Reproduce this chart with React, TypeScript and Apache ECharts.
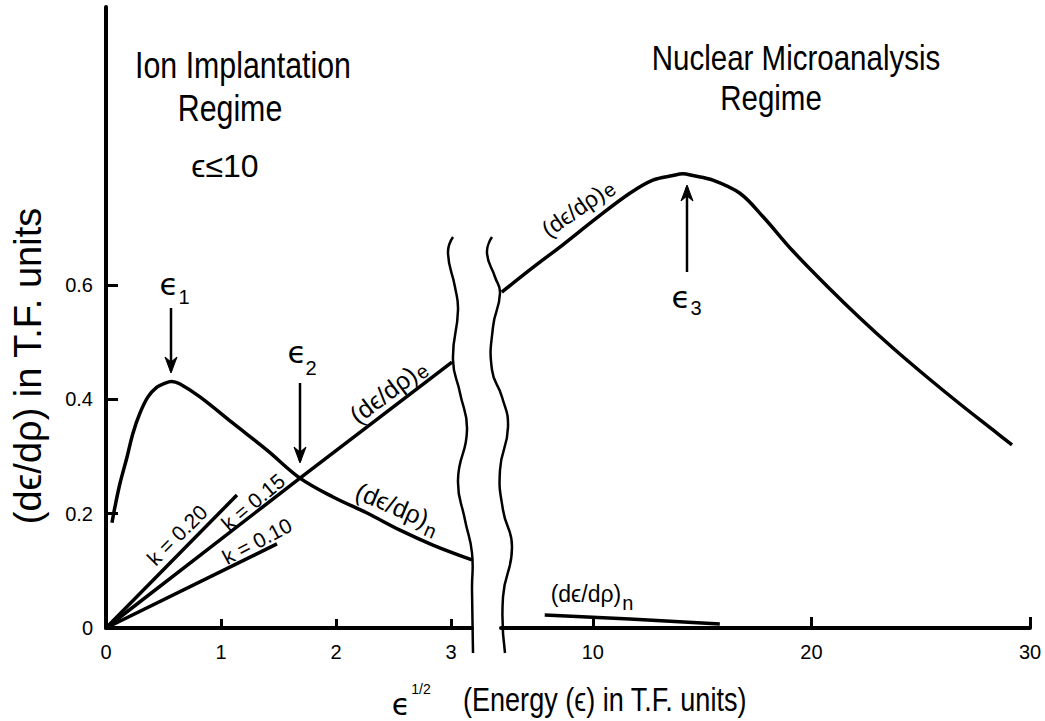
import React, { useEffect, useRef } from "react";
import * as echarts from "echarts";

// ---------- data ----------
const sqrtEnergyTicks = [0, 1, 2, 3];
const energyTicks = [10, 20, 30];
const stoppingTicks = [0, 0.2, 0.4, 0.6];

// low-energy region, x = eps^(1/2)
const nuclearLowX = [0.052, 0.078, 0.122, 0.183, 0.235, 0.296, 0.365, 0.443, 0.513, 0.57, 0.64, 0.817, 1.104, 1.4, 1.687, 1.974, 2.27, 2.557, 2.843, 3.183];
const nuclearLowY = [0.184, 0.212, 0.253, 0.299, 0.341, 0.376, 0.404, 0.421, 0.428, 0.431, 0.427, 0.404, 0.358, 0.311, 0.262, 0.229, 0.201, 0.171, 0.145, 0.119];

const k020X = [0, 1.139];
const k020Y = [0, 0.2325];
const k015X = [0, 1.687, 3.009];
const k015Y = [0, 0.262, 0.465];
const k010X = [0, 1.487];
const k010Y = [0, 0.147];

// high-energy region, x = eps
const electronicHighX = [5.835, 7.117, 8.627, 10.183, 11.693, 12.746, 13.661, 14.12, 14.577, 15.492, 16.728, 17.8, 19.153, 20.709, 22.22, 23.73, 25.286, 26.796, 28.307, 29.176];
const electronicHighY = [0.587, 0.626, 0.67, 0.717, 0.76, 0.783, 0.791, 0.794, 0.791, 0.783, 0.76, 0.7185, 0.659, 0.598, 0.542, 0.4895, 0.4388, 0.3916, 0.3462, 0.32];
const nuclearHighX = [7.8, 11.69, 15.81];
const nuclearHighY = [0.0227, 0.0157, 0.007];

const zip = (xs: number[], ys: number[]) => xs.map((x, i) => [x, ys[i]]);

const SANS = "'Liberation Sans',Arial,sans-serif";
const GREEK = "'DejaVu Sans','Liberation Sans',sans-serif";
const NARROW_SCALE = 0.82;

function measure(text: string, fs: number, family: string): number {
  const c = document.createElement("canvas").getContext("2d");
  if (!c) return text.length * fs * 0.5;
  c.font = `${fs}px ${family}`;
  return c.measureText(text).width;
}

function txt(text: string, x: number, y: number, fs: number, family = SANS, extra: any = {}) {
  return {
    type: "text",
    x,
    y,
    z: 100,
    ...extra,
    style: { text, fill: "#000", fontSize: fs, fontFamily: family, align: "center", verticalAlign: "middle" },
  };
}

function subLabel(main: string, sub: string, cx: number, cy: number, rotDeg: number, fs: number, subFs: number, subDy: number) {
  const mw = measure(main, fs, SANS);
  const sw = measure(sub, subFs, SANS);
  const total = mw + sw + 1;
  return {
    type: "group",
    x: cx,
    y: cy,
    z: 100,
    rotation: (rotDeg * Math.PI) / 180,
    children: [
      { type: "text", x: -total / 2, y: 0, style: { text: main, fill: "#000", fontSize: fs, fontFamily: SANS, align: "left", verticalAlign: "middle" } },
      { type: "text", x: -total / 2 + mw + 1, y: subDy, style: { text: sub, fill: "#000", fontSize: subFs, fontFamily: SANS, align: "left", verticalAlign: "middle" } },
    ],
  };
}

function arrow(x: number, yTail: number, yTip: number) {
  const dir = yTip > yTail ? 1 : -1;
  return [
    { type: "line", z: 100, shape: { x1: x, y1: yTail, x2: x, y2: yTip - dir * 2 }, style: { stroke: "#000", lineWidth: 2.5 } },
    {
      type: "polygon",
      z: 100,
      shape: { points: [[x - 6, yTip - dir * 16], [x, yTip], [x + 6, yTip - dir * 16], [x, yTip - dir * 11]] },
      style: { fill: "#000", stroke: "#000", lineWidth: 1 },
    },
  ];
}

const wavy1 = [[453, 237], [448, 253], [455, 287], [458, 310], [453, 360], [460, 393], [467, 430], [458, 480], [465, 520], [472, 553], [472, 590], [473, 653]];
const wavy2 = [[492, 237], [487, 253], [495, 277], [500, 293], [493, 327], [492, 370], [502, 397], [508, 427], [500, 470], [503, 510], [512, 547], [503, 597], [505, 653]];

export default function App() {
  const ref = useRef<HTMLDivElement>(null);
  useEffect(() => {
    if (!ref.current) return;
    const chart = echarts.init(ref.current, undefined, { renderer: "svg" });
    const lineStyle = { color: "#000", width: 3.5 };
    const axisCommon = (ticks: number[], tickLen: number, margin: number, fmt?: (v: number) => string) => ({
      axisLine: { show: true, onZero: false, lineStyle: { color: "#000", width: 4 } },
      axisTick: { show: true, inside: true, length: tickLen, customValues: ticks, lineStyle: { color: "#000", width: 3 } },
      axisLabel: { show: true, customValues: ticks, color: "#000", fontSize: 20, fontFamily: SANS, margin, formatter: fmt },
      splitLine: { show: false },
    });
    const yMax = 621 / 572;
    const narrow = { scaleX: NARROW_SCALE };
    const option: any = {
      animation: false,
      backgroundColor: "#fff",
      grid: [
        { left: 106, top: 7, width: 366, height: 621, outerBoundsMode: "none" },
        { left: 501, top: 7, width: 529, height: 621, outerBoundsMode: "none" },
      ],
      xAxis: [
        { type: "value", gridIndex: 0, min: 0, max: 3.183, ...axisCommon(sqrtEnergyTicks, 9, 14, (v: number) => String(v)) },
        { type: "value", gridIndex: 1, min: 5.8, max: 30, ...axisCommon(energyTicks, 11, 14, (v: number) => String(v)) },
      ],
      yAxis: [
        { type: "value", gridIndex: 0, min: 0, max: yMax, ...axisCommon(stoppingTicks, 12, 13, (v: number) => (v === 0 ? "0" : v.toFixed(1))) },
        { type: "value", gridIndex: 1, min: 0, max: yMax, show: false },
      ],
      series: [
        { name: "(dε/dρ)n low", type: "line", xAxisIndex: 0, yAxisIndex: 0, data: zip(nuclearLowX, nuclearLowY), smooth: 0.35, showSymbol: false, symbol: "none", lineStyle },
        { name: "k = 0.20", type: "line", xAxisIndex: 0, yAxisIndex: 0, data: zip(k020X, k020Y), showSymbol: false, symbol: "none", lineStyle },
        { name: "k = 0.15 (dε/dρ)e", type: "line", xAxisIndex: 0, yAxisIndex: 0, data: zip(k015X, k015Y), showSymbol: false, symbol: "none", lineStyle },
        { name: "k = 0.10", type: "line", xAxisIndex: 0, yAxisIndex: 0, data: zip(k010X, k010Y), showSymbol: false, symbol: "none", lineStyle },
        { name: "(dε/dρ)e high", type: "line", xAxisIndex: 1, yAxisIndex: 1, data: zip(electronicHighX, electronicHighY), smooth: 0.35, showSymbol: false, symbol: "none", lineStyle },
        { name: "(dε/dρ)n high", type: "line", xAxisIndex: 1, yAxisIndex: 1, data: zip(nuclearHighX, nuclearHighY), showSymbol: false, symbol: "none", lineStyle },
      ],
      graphic: [
        // axis break marks
        { type: "polyline", z: 100, shape: { points: wavy1, smooth: 0.5 }, style: { stroke: "#000", lineWidth: 2.5, fill: null } },
        { type: "polyline", z: 100, shape: { points: wavy2, smooth: 0.5 }, style: { stroke: "#000", lineWidth: 2.5, fill: null } },
        // regime titles
        txt("Ion Implantation", 243, 65, 37, SANS, narrow),
        txt("Regime", 230, 108, 37, SANS, narrow),
        txt("ϵ≤10", 225, 166, 32, SANS),
        txt("Nuclear Microanalysis", 796, 57, 36, SANS, narrow),
        txt("Regime", 771, 97, 36, SANS, narrow),
        // axis titles
        txt("(dϵ/dρ) in T.F. units", 28, 366, 38, SANS, { rotation: Math.PI / 2 }),
        txt("ϵ", 401, 704, 30, GREEK),
        txt("1/2", 421, 689, 14),
        { type: "text", x: 463, y: 700, z: 100, scaleX: NARROW_SCALE, style: { text: "(Energy (ϵ) in T.F. units)", fill: "#000", fontSize: 33, fontFamily: SANS, align: "left", verticalAlign: "middle" } },
        // epsilon markers
        txt("ϵ", 169, 284, 31, GREEK),
        txt("1", 184, 297, 20),
        ...arrow(171, 308, 373),
        txt("ϵ", 297, 352, 31, GREEK),
        txt("2", 311, 368, 20),
        ...arrow(300, 383, 463),
        txt("ϵ", 681, 297, 31, GREEK),
        txt("3", 696, 308, 20),
        ...arrow(687, 272, 185),
        // curve labels
        subLabel("(dϵ/dρ)", "e", 388, 391, 37, 25, 20, 5),
        subLabel("(dϵ/dρ)", "n", 398, 507, -23, 25, 20, 9),
        subLabel("(dϵ/dρ)", "e", 578, 208, 35, 23, 20, 3),
        subLabel("(dϵ/dρ)", "n", 592, 594, 0, 23, 20, 9),
        txt("k = 0.20", 177, 535, 21, SANS, { rotation: (45 * Math.PI) / 180 }),
        txt("k = 0.15", 253, 502, 21, SANS, { rotation: (40 * Math.PI) / 180 }),
        txt("k = 0.10", 257, 541, 21, SANS, { rotation: (28 * Math.PI) / 180 }),
      ],
    };
    chart.setOption(option);
    return () => chart.dispose();
  }, []);
  return <div ref={ref} style={{ position: "absolute", left: 0, top: 0, width: 1045, height: 721, background: "#fff" }} />;
}
